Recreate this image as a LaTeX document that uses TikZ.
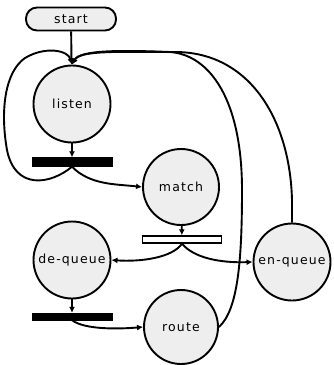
\documentclass[tikz,border=0pt]{standalone}
\usepackage{fontspec}
\newfontfamily\labfont[LetterSpace=9]{DejaVu Sans}
\usetikzlibrary{arrows.meta}
\begin{document}
\begin{tikzpicture}[x=1pt,y=-1pt,
  every node/.style={font=\labfont\fontsize{12.5}{14}\selectfont},
  state/.style={circle,draw,line width=1.9pt,fill=gray!13,minimum size=77pt,inner sep=0pt},
  startbox/.style={rectangle,rounded corners=11pt,draw,line width=1.9pt,fill=gray!13,minimum width=90pt,minimum height=23pt,inner sep=0pt},
  blackbar/.style={rectangle,fill=black,draw=black,minimum width=80pt,inner sep=0pt},
  whitebar/.style={rectangle,fill=white,draw=black,line width=1.4pt,minimum width=79pt,minimum height=7pt,inner sep=0pt},
  conn/.style={line width=1.9pt},
  arr/.style={conn,-{Latex[length=6pt,width=6pt]}}]
\useasboundingbox (0,0) rectangle (334,365);
\node[startbox] (start) at (71,19) {start};
\node[state] (listen) at (72,104) {listen};
\node[blackbar,minimum height=9pt] (bar1) at (72,162) {};
\node[state,minimum size=76pt] (match) at (181,187) {match};
\node[whitebar] (wbar) at (182,239.5) {};
\node[state] (dequeue) at (72,260) {de-queue};
\node[state] (enqueue) at (292,262) {en-queue};
\node[blackbar,minimum height=7pt] (bar2) at (72,316.5) {};
\node[state,minimum size=74pt] (route) at (181,327) {route};

\draw[arr] (start) -- (listen);
\draw[arr] (listen) -- (bar1);
\draw[arr] (bar1.south) .. controls (50,185) and (15,190) .. (7,150)
   .. controls (0,110) and (5,72) .. (25,58)
   .. controls (45,46) and (68,50) .. (listen.north);
\draw[arr] (bar1.south) .. controls (90,185) and (115,184) .. (match.west);
\draw[arr] (match) -- (wbar);
\draw[arr] (wbar.south) .. controls (172,258) and (140,262) .. (dequeue.east);
\draw[arr] (wbar.south) .. controls (194,258) and (220,263) .. (enqueue.west);
\draw[arr] (dequeue) -- (bar2);
\draw[arr] (bar2.south) .. controls (85,330) and (120,329) .. (route.west);
\draw[arr] (route.east) .. controls (238,310) and (242,260) .. (242,190)
   .. controls (242,100) and (210,55) .. (170,52)
   .. controls (120,50) and (80,50) .. (listen.north);
\draw[arr] (enqueue.north) -- (292,200) .. controls (290,120) and (250,52) .. (175,52)
   .. controls (120,52) and (80,50) .. (listen.north);
\end{tikzpicture}
\end{document}
